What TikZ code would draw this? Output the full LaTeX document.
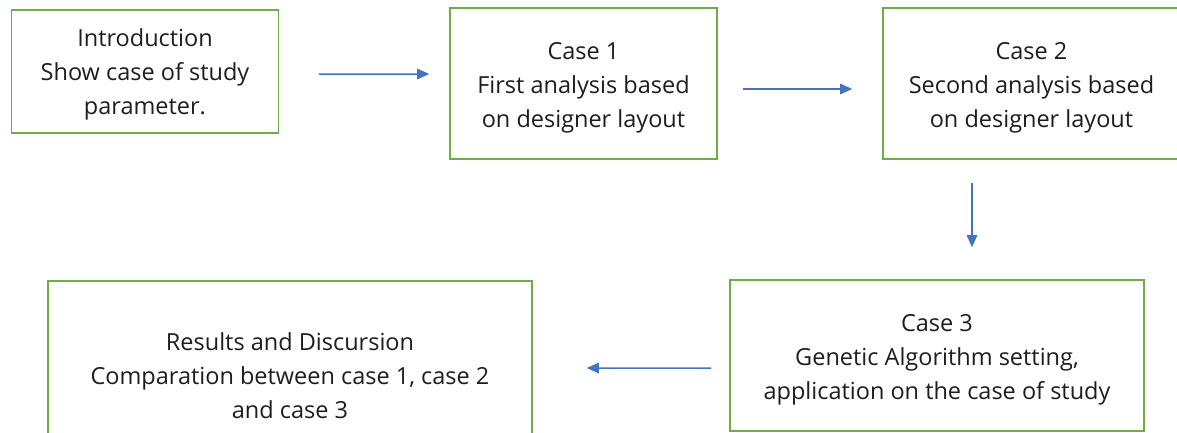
\documentclass[tikz,border=0pt]{standalone}
\usepackage{fontspec}
\setmainfont{Open Sans}
\usetikzlibrary{arrows.meta,calc}
\definecolor{boxgreen}{HTML}{70AD47}
\definecolor{arrblue}{HTML}{4472C4}
\definecolor{txt}{HTML}{1E1E1E}
\begin{document}
\begin{tikzpicture}[x=1bp,y=-1bp,
  stage/.style={draw=boxgreen,line width=1.6bp,fill=white,rectangle,inner sep=0pt},
  stagetext/.style={align=center,text=txt,inner sep=0pt,
    font=\fontsize{23.5bp}{34bp}\selectfont},
  arr/.style={draw=arrblue,line width=1.5bp,-{Triangle[length=12bp,width=10.5bp]}}]
\useasboundingbox (0,0) rectangle (1177,432);
\fill[white] (0,0) rectangle (1177,432);
\node[stage,minimum width=267bp,minimum height=123bp] (intro) at (145,71.5) {};
\node[stage,minimum width=267bp,minimum height=151bp] (case1) at (583.5,83.5) {};
\node[stage,minimum width=297bp,minimum height=151bp] (case2) at (1031.5,83.5) {};
\node[stage,minimum width=414bp,minimum height=151bp] (case3) at (937,355.5) {};
\node[stage,minimum width=484bp,minimum height=192bp] (results) at (290,377) {};
\node[stagetext] (introtext) at ($(intro)+(0,3)$)
  {Introduction\\Show case of study\\parameter.};
\node[stagetext] (case1text) at ($(case1)+(0,4)$)
  {Case 1\\First analysis based\\on designer layout};
\node[stagetext] (case2text) at ($(case2)+(0,4)$)
  {Case 2\\Second analysis based\\on designer layout};
\node[stagetext] (case3text) at ($(case3)+(0,4)$)
  {Case 3\\Genetic Algorithm setting,\\application on the case of study};
\node[stagetext] (resultstext) at ($(results)+(0,-1)$)
  {Results and Discursion\\Comparation between case 1, case 2\\and case 3};
\draw[arr] ($(intro.east)+(39.5,2.5)$) -- ($(case1.west)+(-20,-9.5)$);
\draw[arr] ($(case1.east)+(25,5.5)$) -- ($(case2.west)+(-30,5.5)$);
\draw[arr] ($(case2.south)+(-59.5,23)$) -- ($(case3.north)+(35,-32)$);
\draw[arr] ($(case3.west)+(-18,12.5)$) -- ($(results.east)+(54,-9)$);
\end{tikzpicture}
\end{document}
